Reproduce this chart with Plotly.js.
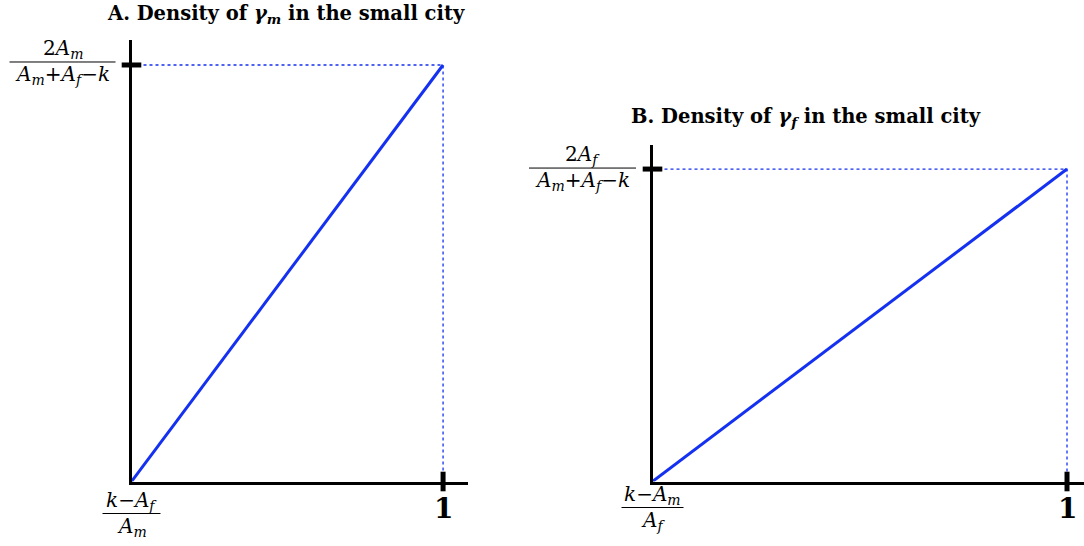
<!DOCTYPE html>
<html>
<head>
<meta charset="utf-8">
<script src="https://cdn.plot.ly/plotly-3.0.1.min.js"></script>
<style>
  html, body { margin: 0; padding: 0; background: #fff; }
  #plot { width: 1084px; height: 546px; }
</style>
</head>
<body>
<div id="plot"></div>
<script>
// Density of gamma on its support: zero at the lower bound, maximum at 1
const xDensA = [0, 1];
const yDensA = [0, 1];
const xDensB = [0, 1];
const yDensB = [0, 1];

// Titles and tick labels
const titles = [
    '<b>A. Density of <i>γ</i><sub><i>m</i></sub> in the small city</b>',
    '<b>B. Density of <i>γ</i><sub><i>f</i></sub> in the small city</b>'
];
const yTopNum = ['2<i>A</i><sub><i>m</i></sub>', '2<i>A</i><sub><i>f</i></sub>'];
const yTopDen = [
    '<i>A</i><sub><i>m</i></sub>+<i>A</i><sub><i>f</i></sub>−<i>k</i>',
    '<i>A</i><sub><i>m</i></sub>+<i>A</i><sub><i>f</i></sub>−<i>k</i>'
];
const xLowNum = ['<i>k</i>−<i>A</i><sub><i>f</i></sub>', '<i>k</i>−<i>A</i><sub><i>m</i></sub>'];
const xLowDen = ['<i>A</i><sub><i>m</i></sub>', '<i>A</i><sub><i>f</i></sub>'];
const xHighLabel = '<b>1</b>';

const W = 1084, H = 546;
const blue = '#1430f0';
const mathFont = {family: 'DejaVu Serif', size: 20, color: '#000'};

// pixel helpers for domains
const px = v => v / W;
const py = v => 1 - v / H;

const panels = [
    {x: xDensA, y: yDensA, xa: 'x', ya: 'y',
     dom: {x: [px(131.5), px(468)], y: [py(481.5), py(40)]},
     xr: [0, 1.080], yr: [0, 1.060],
     yFrac: {dx: -69, dy: 3, w: 106}, xFrac: {dx: 0, dy: -32, w: 58},
     title: {x: px(286), y: py(14)}},
    {x: xDensB, y: yDensB, xa: 'x2', ya: 'y2',
     dom: {x: [px(652.5), px(1084)], y: [py(481.5), py(145)]},
     xr: [0, 1.041], yr: [0, 1.077],
     yFrac: {dx: -70, dy: 1, w: 107}, xFrac: {dx: 0, dy: -26, w: 62},
     title: {x: px(806), y: py(117)}}
];

// position of a data value on the page, through the panel's axis scale
const paperX = (p, v) => p.dom.x[0] + (v - p.xr[0]) / (p.xr[1] - p.xr[0]) * (p.dom.x[1] - p.dom.x[0]);
const paperY = (p, v) => p.dom.y[0] + (v - p.yr[0]) / (p.yr[1] - p.yr[0]) * (p.dom.y[1] - p.dom.y[0]);

const traces = [];
const annotations = [];
const shapes = [];

function fraction(p, xv, yv, f, num, den) {
    shapes.push({
        type: 'line', xref: 'paper', yref: 'paper',
        xsizemode: 'pixel', ysizemode: 'pixel',
        xanchor: paperX(p, xv), yanchor: paperY(p, yv),
        x0: f.dx - f.w / 2, x1: f.dx + f.w / 2, y0: f.dy, y1: f.dy,
        line: {color: '#000', width: 1}
    });
    annotations.push({
        xref: p.xa, yref: p.ya, x: xv, y: yv, xshift: f.dx, yshift: f.dy - 1,
        xanchor: 'center', yanchor: 'bottom', showarrow: false,
        text: num, font: mathFont, borderpad: 0
    });
    annotations.push({
        xref: p.xa, yref: p.ya, x: xv, y: yv, xshift: f.dx, yshift: f.dy + 1,
        xanchor: 'center', yanchor: 'top', showarrow: false,
        text: den, font: mathFont, borderpad: 0
    });
}

panels.forEach((p, i) => {
    // dotted guides to the maximum
    traces.push({
        x: [p.x[0], p.x[1], p.x[1]], y: [p.y[1], p.y[1], p.y[0]],
        xaxis: p.xa, yaxis: p.ya, mode: 'lines', hoverinfo: 'skip',
        line: {color: blue, width: 1.3, dash: 'dot'}
    });
    // density line
    traces.push({
        x: p.x, y: p.y, xaxis: p.xa, yaxis: p.ya, mode: 'lines',
        line: {color: blue, width: 3}
    });
    // tick marks crossing the axes
    traces.push({
        x: [p.x[1], p.x[0]], y: [p.y[0], p.y[1]],
        xaxis: p.xa, yaxis: p.ya, mode: 'markers', cliponaxis: false,
        marker: {symbol: ['line-ns', 'line-ew'], size: 14,
                 line: {color: '#000', width: 5}}
    });

    fraction(p, p.x[0], p.y[1], p.yFrac, yTopNum[i], yTopDen[i]);
    fraction(p, p.x[0], p.y[0], p.xFrac, xLowNum[i], xLowDen[i]);

    annotations.push({
        xref: p.xa, yref: p.ya, x: p.x[1], y: p.y[0], yshift: -27,
        xanchor: 'center', yanchor: 'middle', showarrow: false,
        text: xHighLabel, font: {family: 'DejaVu Serif', size: 28, color: '#000'}
    });
    annotations.push({
        xref: 'paper', yref: 'paper', x: p.title.x, y: p.title.y,
        xanchor: 'center', yanchor: 'middle', showarrow: false,
        text: titles[i], font: {family: 'DejaVu Serif', size: 19.5, color: '#000'}
    });
});

const axisBase = {
    showgrid: false, zeroline: false, showticklabels: false, ticks: '',
    showline: true, linewidth: 3, linecolor: '#000', fixedrange: true
};

const layout = {
    width: W, height: H,
    margin: {l: 0, r: 0, t: 0, b: 0},
    paper_bgcolor: '#fff', plot_bgcolor: '#fff',
    showlegend: false,
    xaxis: Object.assign({}, axisBase, {domain: panels[0].dom.x, range: panels[0].xr, anchor: 'y'}),
    yaxis: Object.assign({}, axisBase, {domain: panels[0].dom.y, range: panels[0].yr, anchor: 'x'}),
    xaxis2: Object.assign({}, axisBase, {domain: panels[1].dom.x, range: panels[1].xr, anchor: 'y2'}),
    yaxis2: Object.assign({}, axisBase, {domain: panels[1].dom.y, range: panels[1].yr, anchor: 'x2'}),
    annotations: annotations,
    shapes: shapes
};

Plotly.newPlot('plot', traces, layout, {displayModeBar: false, staticPlot: true});
</script>
</body>
</html>
